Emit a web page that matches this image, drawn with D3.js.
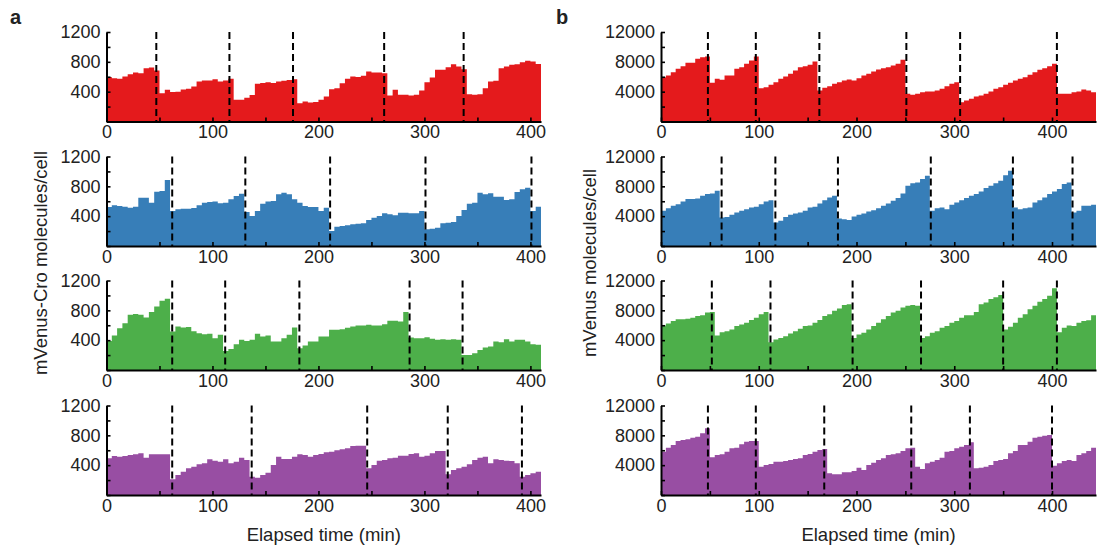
<!DOCTYPE html>
<html><head><meta charset="utf-8">
<script src="https://cdn.jsdelivr.net/npm/d3@7/dist/d3.min.js"></script>
<style>body{margin:0;background:#fff}svg{display:block}</style>
</head><body>
<svg id="chart" width="1099" height="549"></svg>
<script>
// ---- data ----
const binMinutes = 5;
const aXMax = 410, bXMax = 445;
const aYMax = 1200, bYMax = 12000;
const aYTicks = [0,200,400,600,800,1000,1200];
const aYLabels = [400,800,1200];
const bYTicks = [0,2000,4000,6000,8000,10000,12000];
const bYLabels = [4000,8000,12000];
const aXTicks = [0,50,100,150,200,250,300,350,400];
const aXLabels = [0,100,200,300,400];
const bXTicks = [0,50,100,150,200,250,300,350,400];
const bXLabels = [0,100,200,300,400];

const a1 = [595,581,572,603,635,657,648,715,724,684, 380,425,395,400,430,440,470,535,550,550,565,535,550,572, 290,290,320,355,505,515,525,515,535,545,555,565, 246,268,255,262,290,335,434,447,514,572,603,595,612,670,657,657,648, 349,425,358,358,349,358,416,527,590,693,693,729,769,738,700, 367,360,365,447,536,545,715,738,760,769,796,814,805,770];
const a2 = [523,545,536,527,514,527,648,648,581,729,738,885, 470,492,500,500,510,545,581,590,595,572,581,626,670,702, 456,402,470,568,595,603,693,715,693,626,580,536,523,523,470,514, 201,259,268,277,290,300,304,349,380,402,438,425,411,447,447,438,440,470, 224,232,246,304,313,322,402,483,568,581,715,693,706,662,662,617,626,724,760,782, 470,527];
const a3 = [390,462,561,628,740,750,740,705,777,853,929,956, 516,584,570,575,520,494,480,485,426,471, 256,283,346,404,390,404,485,449,462,382,382,426,471,570, 292,328,382,382,449,449,539,539,548,565,584,597,597,606,597,597,615,660,660,651,777, 436,426,426,440,418,404,413,404,413,404, 202,202,224,269,301,314,382,373,413,382,404,404,382,346,337];
const a4 = [492,523,514,523,536,545,559,500,545,545,545,545, 210,268,313,358,380,411,425,478,460,447,478,425,447,500,469, 246,232,268,300,402,514,483,483,514,545,536,514,536,550,572,581,600,612,626,657,662,662, 358,402,460,469,492,500,527,527,550,559,514,527,559,590,590, 277,335,358,380,411,469,500,514,425,478,469,460,456,425, 246,268,290,313];

const b1 = [5945,6170,6615,7060,7420,7870,7870,8400,8630,8720, 5185,5720,5590,6170,6170,7060,7290,7730,8180,8720, 4470,4600,4920,5270,5720,6030,6390,6840,7290,7420,7600,8050, 4160,4510,4740,5050,5270,5500,5630,5500,5810,6170,6390,6705,6970,7150,7290,7510,7730,8270, 3710,3580,3710,3930,4020,4020,4160,4380,4740,5050,5270, 2590,2820,3040,3350,3490,3710,4020,4380,4600,4920,5185,5500,5720,5945,6260,6615,6930,7150,7420,7730, 3710,3710,3710,3930,4020,4290,4160,3930];
const b2 = [4715,5075,5390,5610,5970,6290,6290,6380,6735,6960,7050,7410, 3815,3900,4175,4490,4715,4940,5160,5250,5610,5970,6150, 3140,3370,3900,4175,4355,4490,4715,5160,5250,5700,6150,6510,6735, 3680,3590,3500,3950,4175,4355,4625,4805,5075,5390,5700,6060,6420,7050,8080,8400,8530,8980,9430, 4715,5075,5160,4940,5520,5840,6150,6420,6735,6960,7320,7770,8080,8400,8755,9500,10100, 5160,4940,5075,5160,5840,6150,6510,6960,7320,7630,8300,8530, 4490,4715,5390,5390,5520];
const b3 = [5980,6250,6570,6795,6795,6885,7020,7250,7340,7700,7790, 4620,5075,5210,5440,5890,6115,6340,6705,7020,7475,7790, 3715,4075,4300,4530,4890,5210,5525,5890,5980,6340,6705,7250,7475,7930,8245,8700,8830, 4300,4755,5000,5440,5890,6340,6795,7250,7700,7930,8380,8610,8700,8610, 4300,4530,5000,5210,5660,5890,6340,6570,7020,7340,7340,7790,8830,9060,9510,9740,10050, 5440,5800,6340,7020,7475,8150,8610,9150,9510,9970,10960, 5075,5660,5980,5890,6340,6570,6660,7340];
const b4 = [5810,6350,6700,7240,7375,7465,7690,7820,8270,8940, 5050,5365,5450,5810,6260,6350,6795,7150,7240,7240, 3800,4025,4160,4470,4470,4560,4690,4830,4920,5365,5500,5810,6035,6170, 2900,2770,2770,3040,3040,3220,3665,3350,4025,4335,4690,4920,5365,5450,5590,5900,6260,6350, 3800,3490,4250,4470,4690,5005,5810,5900,6260,6480,6700,7060, 3575,3665,3800,4025,4560,4690,4830,5590,5900,6700,6700,7150,7690,7820,7950,8045, 3935,4250,4560,4690,4560,5365,5590,5900,6350];

const a1Div = [47,116,176,262,337];
const a2Div = [62,131,211,301,401];
const a3Div = [62,112,182,286,336];
const a4Div = [62,137,246,322,392];
const b1Div = [48,97,162,251,306,405];
const b2Div = [62,117,181,276,360,421];
const b3Div = [52,112,196,266,350,405];
const b4Div = [48,97,167,256,316,400];

const seriesColors = ["#e41a1c","#377eb8","#4daf4a","#984ea3"];
const aYTitle = "mVenus-Cro molecules/cell";
const bYTitle = "mVenus molecules/cell";
const xTitle = "Elapsed time (min)";

// ---- layout ----
const svg = d3.select("#chart");
const FONT = "Arial, 'Liberation Sans', Helvetica, sans-serif";
const TXT = "#222";
const baselines = [121.5, 246, 370, 495];
const plotH = 89.5;

const columns = [
  {vals:[a1,a2,a3,a4], divs:[a1Div,a2Div,a3Div,a4Div], xMax:aXMax, yMax:aYMax,
   yTicks:aYTicks, yLabels:aYLabels, xTicks:aXTicks, xLabels:aXLabels,
   range:[106.5, 541], yTitle:aYTitle, yTitleX:41, letter:"a", letterX:10},
  {vals:[b1,b2,b3,b4], divs:[b1Div,b2Div,b3Div,b4Div], xMax:bXMax, yMax:bYMax,
   yTicks:bYTicks, yLabels:bYLabels, xTicks:bXTicks, xLabels:bXLabels,
   range:[661, 1096], yTitle:bYTitle, yTitleX:590, letter:"b", letterX:556}
];

columns.forEach(col => {
  const x = d3.scaleLinear().domain([0, col.xMax]).range(col.range);
  col.vals.forEach((vals, r) => {
    const base = baselines[r];
    const y = d3.scaleLinear().domain([0, col.yMax]).range([base, base - plotH]);
    const g = svg.append("g");
    // step histogram as one area (bins of binMinutes)
    const pts = vals.map((v,i) => [i*binMinutes, v]);
    pts.push([vals.length*binMinutes, vals[vals.length-1]]);
    const area = d3.area().curve(d3.curveStepAfter)
      .x(d => x(d[0])).y0(base).y1(d => y(d[1]));
    g.append("path").attr("d", area(pts)).attr("fill", seriesColors[r]);
    // division lines
    g.selectAll("line.div").data(col.divs[r]).join("line")
      .attr("class","div")
      .attr("x1", d => x(d)).attr("x2", d => x(d))
      .attr("y1", y(col.yMax)).attr("y2", base)
      .attr("stroke", "#000").attr("stroke-width", 2)
      .attr("stroke-dasharray", "7,4");
    // y axis
    const ya = g.append("g").attr("transform", `translate(${col.range[0]},0)`)
      .call(d3.axisLeft(y).tickValues(col.yTicks).tickSizeInner(-4).tickSizeOuter(0).tickPadding(6)
        .tickFormat(d => col.yLabels.includes(d) ? String(d) : ""));
    // x axis
    const xa = g.append("g").attr("transform", `translate(0,${base})`)
      .call(d3.axisBottom(x).tickValues(col.xTicks).tickSizeInner(-4).tickSizeOuter(0).tickPadding(4)
        .tickFormat(d => col.xLabels.includes(d) ? String(d) : ""));
    [ya, xa].forEach(ax => {
      ax.attr("font-family", FONT).attr("font-size", 18);
      ax.select(".domain").attr("stroke", "#000").attr("stroke-width", 2);
      ax.selectAll(".tick line").attr("stroke", "#000").attr("stroke-width", 1.6);
      ax.selectAll(".tick text").attr("fill", TXT);
    });
  });
  // titles
  svg.append("text")
    .attr("transform", `translate(${col.yTitleX},263) rotate(-90)`)
    .attr("text-anchor", "middle").attr("dy", "0.35em")
    .attr("font-family", FONT).attr("font-size", 18.5).attr("fill", TXT)
    .text(col.yTitle);
  svg.append("text")
    .attr("x", (col.range[0]+col.range[1])/2).attr("y", 541)
    .attr("text-anchor", "middle")
    .attr("font-family", FONT).attr("font-size", 18.5).attr("fill", TXT)
    .text(xTitle);
  svg.append("text")
    .attr("x", col.letterX).attr("y", 24)
    .attr("font-family", FONT).attr("font-size", 20).attr("font-weight", "bold").attr("fill", TXT)
    .text(col.letter);
});
</script>
</body></html>
